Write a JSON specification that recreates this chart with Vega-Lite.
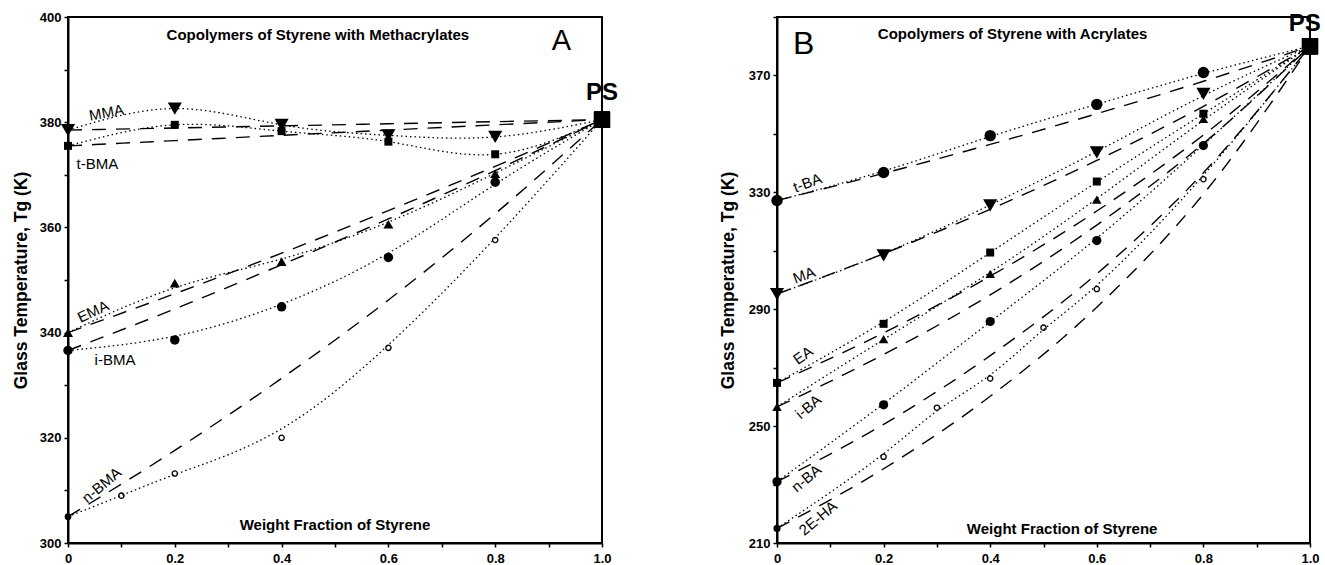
{
  "$schema": "https://vega.github.io/schema/vega-lite/v6.json",
  "padding": {"left": 11, "top": 10, "right": 0, "bottom": 0},
  "bounds": "flush",
  "spacing": 175,
  "config": {
    "font": "Liberation Sans",
    "view": {"stroke": "black", "strokeWidth": 2},
    "text": {"color": "black", "font": "Liberation Sans"},
    "axis": {
      "domainColor": "black", "domainWidth": 2, "tickColor": "black", "tickWidth": 1.5, "tickSize": 4,
      "labelFont": "Liberation Sans", "labelFontWeight": "bold", "labelFontSize": 13, "labelColor": "black",
      "labelPadding": 3, "labelOverlap": false, "labelFlush": false,
      "titleFont": "Liberation Sans", "titleFontWeight": "bold", "titleFontSize": 17.5, "titleColor": "black",
      "grid": false
    }
  },
  "datasets": {
    "A_pts": [
      {"s": "MMA", "x": 0, "y": 378.5}, {"s": "MMA", "x": 0.2, "y": 382.6}, {"s": "MMA", "x": 0.4, "y": 379.5}, {"s": "MMA", "x": 0.6, "y": 377.5}, {"s": "MMA", "x": 0.8, "y": 377.2}, {"s": "MMA", "x": 1, "y": 380.5},
      {"s": "t-BMA", "x": 0, "y": 375.5}, {"s": "t-BMA", "x": 0.2, "y": 379.5}, {"s": "t-BMA", "x": 0.4, "y": 378.3}, {"s": "t-BMA", "x": 0.6, "y": 376.3}, {"s": "t-BMA", "x": 0.8, "y": 373.9}, {"s": "t-BMA", "x": 1, "y": 380.5},
      {"s": "EMA", "x": 0, "y": 340}, {"s": "EMA", "x": 0.2, "y": 349.4}, {"s": "EMA", "x": 0.4, "y": 353.5}, {"s": "EMA", "x": 0.6, "y": 360.6}, {"s": "EMA", "x": 0.8, "y": 370.2}, {"s": "EMA", "x": 1, "y": 380.5},
      {"s": "i-BMA", "x": 0, "y": 336.6}, {"s": "i-BMA", "x": 0.2, "y": 338.6}, {"s": "i-BMA", "x": 0.4, "y": 344.9}, {"s": "i-BMA", "x": 0.6, "y": 354.3}, {"s": "i-BMA", "x": 0.8, "y": 368.6}, {"s": "i-BMA", "x": 1, "y": 380.5},
      {"s": "n-BMA", "x": 0, "y": 305}, {"s": "n-BMA", "x": 0.1, "y": 309}, {"s": "n-BMA", "x": 0.2, "y": 313.2}, {"s": "n-BMA", "x": 0.4, "y": 320}, {"s": "n-BMA", "x": 0.6, "y": 337.1}, {"s": "n-BMA", "x": 0.8, "y": 357.6}, {"s": "n-BMA", "x": 1, "y": 380.5}
    ],
    "A_fox": [
      {"s": "MMA", "x": 0, "y": 378.5}, {"s": "MMA", "x": 0.2, "y": 378.9}, {"s": "MMA", "x": 0.4, "y": 379.3}, {"s": "MMA", "x": 0.6, "y": 379.7}, {"s": "MMA", "x": 0.8, "y": 380.1}, {"s": "MMA", "x": 1, "y": 380.5},
      {"s": "t-BMA", "x": 0, "y": 375.5}, {"s": "t-BMA", "x": 0.2, "y": 376.5}, {"s": "t-BMA", "x": 0.4, "y": 377.5}, {"s": "t-BMA", "x": 0.6, "y": 378.5}, {"s": "t-BMA", "x": 0.8, "y": 379.5}, {"s": "t-BMA", "x": 1, "y": 380.5},
      {"s": "EMA", "x": 0, "y": 340}, {"s": "EMA", "x": 0.2, "y": 347.4}, {"s": "EMA", "x": 0.4, "y": 355.1}, {"s": "EMA", "x": 0.6, "y": 363.2}, {"s": "EMA", "x": 0.8, "y": 371.6}, {"s": "EMA", "x": 1, "y": 380.5},
      {"s": "i-BMA", "x": 0, "y": 336.6}, {"s": "i-BMA", "x": 0.2, "y": 344.5}, {"s": "i-BMA", "x": 0.4, "y": 352.9}, {"s": "i-BMA", "x": 0.6, "y": 361.6}, {"s": "i-BMA", "x": 0.8, "y": 370.8}, {"s": "i-BMA", "x": 1, "y": 380.5},
      {"s": "n-BMA", "x": 0, "y": 305}, {"s": "n-BMA", "x": 0.2, "y": 317.6}, {"s": "n-BMA", "x": 0.4, "y": 331.3}, {"s": "n-BMA", "x": 0.6, "y": 346.2}, {"s": "n-BMA", "x": 0.8, "y": 362.6}, {"s": "n-BMA", "x": 1, "y": 380.5}
    ],
    "A_lab": [
      {"label": "Copolymers of Styrene with Methacrylates", "x": 0.468, "y": 396.6},
      {"label": "Weight Fraction of Styrene", "x": 0.5, "y": 303.4},
      {"label": "A", "x": 0.924, "y": 395.5},
      {"label": "PS", "x": 1.0, "y": 385.5},
      {"label": "MMA", "x": 0.072, "y": 381.8},
      {"label": "t-BMA", "x": 0.055, "y": 372.0},
      {"label": "EMA", "x": 0.047, "y": 344.0},
      {"label": "i-BMA", "x": 0.088, "y": 334.8},
      {"label": "n-BMA", "x": 0.063, "y": 311.0}
    ],
    "B_pts": [
      {"s": "t-BA", "x": 0, "y": 327.2}, {"s": "t-BA", "x": 0.2, "y": 336.8}, {"s": "t-BA", "x": 0.4, "y": 349.4}, {"s": "t-BA", "x": 0.6, "y": 360.1}, {"s": "t-BA", "x": 0.8, "y": 371}, {"s": "t-BA", "x": 1, "y": 380},
      {"s": "MA", "x": 0, "y": 295.2}, {"s": "MA", "x": 0.2, "y": 308.4}, {"s": "MA", "x": 0.4, "y": 325.5}, {"s": "MA", "x": 0.6, "y": 343.7}, {"s": "MA", "x": 0.8, "y": 363.7}, {"s": "MA", "x": 1, "y": 380},
      {"s": "EA", "x": 0, "y": 264.8}, {"s": "EA", "x": 0.2, "y": 285}, {"s": "EA", "x": 0.4, "y": 309.4}, {"s": "EA", "x": 0.6, "y": 333.7}, {"s": "EA", "x": 0.8, "y": 356.9}, {"s": "EA", "x": 1, "y": 380},
      {"s": "i-BA", "x": 0, "y": 256.6}, {"s": "i-BA", "x": 0.2, "y": 279.8}, {"s": "i-BA", "x": 0.4, "y": 302.1}, {"s": "i-BA", "x": 0.6, "y": 327.5}, {"s": "i-BA", "x": 0.8, "y": 355.1}, {"s": "i-BA", "x": 1, "y": 380},
      {"s": "n-BA", "x": 0, "y": 231}, {"s": "n-BA", "x": 0.2, "y": 257.3}, {"s": "n-BA", "x": 0.4, "y": 285.8}, {"s": "n-BA", "x": 0.6, "y": 313.5}, {"s": "n-BA", "x": 0.8, "y": 346}, {"s": "n-BA", "x": 1, "y": 380},
      {"s": "2E-HA", "x": 0, "y": 215}, {"s": "2E-HA", "x": 0.2, "y": 239.5}, {"s": "2E-HA", "x": 0.3, "y": 256.3}, {"s": "2E-HA", "x": 0.4, "y": 266.3}, {"s": "2E-HA", "x": 0.5, "y": 283.7}, {"s": "2E-HA", "x": 0.6, "y": 296.9}, {"s": "2E-HA", "x": 0.8, "y": 334.5}, {"s": "2E-HA", "x": 1, "y": 380}
    ],
    "B_fox": [
      {"s": "t-BA", "x": 0, "y": 327.2}, {"s": "t-BA", "x": 0.2, "y": 336.5}, {"s": "t-BA", "x": 0.4, "y": 346.4}, {"s": "t-BA", "x": 0.6, "y": 356.9}, {"s": "t-BA", "x": 0.8, "y": 368}, {"s": "t-BA", "x": 1, "y": 380},
      {"s": "MA", "x": 0, "y": 295.2}, {"s": "MA", "x": 0.2, "y": 309}, {"s": "MA", "x": 0.4, "y": 324.2}, {"s": "MA", "x": 0.6, "y": 340.9}, {"s": "MA", "x": 0.8, "y": 359.4}, {"s": "MA", "x": 1, "y": 380},
      {"s": "EA", "x": 0, "y": 264.8}, {"s": "EA", "x": 0.2, "y": 281.9}, {"s": "EA", "x": 0.4, "y": 301.3}, {"s": "EA", "x": 0.6, "y": 323.6}, {"s": "EA", "x": 0.8, "y": 349.6}, {"s": "EA", "x": 1, "y": 380},
      {"s": "i-BA", "x": 0, "y": 256.6}, {"s": "i-BA", "x": 0.2, "y": 274.5}, {"s": "i-BA", "x": 0.4, "y": 294.9}, {"s": "i-BA", "x": 0.6, "y": 318.8}, {"s": "i-BA", "x": 0.8, "y": 346.7}, {"s": "i-BA", "x": 1, "y": 380},
      {"s": "n-BA", "x": 0, "y": 231}, {"s": "n-BA", "x": 0.2, "y": 250.6}, {"s": "n-BA", "x": 0.4, "y": 274.1}, {"s": "n-BA", "x": 0.6, "y": 302.1}, {"s": "n-BA", "x": 0.8, "y": 336.7}, {"s": "n-BA", "x": 1, "y": 380},
      {"s": "2E-HA", "x": 0, "y": 215}, {"s": "2E-HA", "x": 0.2, "y": 235.4}, {"s": "2E-HA", "x": 0.4, "y": 260.2}, {"s": "2E-HA", "x": 0.6, "y": 290.7}, {"s": "2E-HA", "x": 0.8, "y": 329.4}, {"s": "2E-HA", "x": 1, "y": 380}
    ],
    "B_lab": [
      {"label": "Copolymers of Styrene with Acrylates", "x": 0.442, "y": 384.3},
      {"label": "Weight Fraction of Styrene", "x": 0.535, "y": 214.8},
      {"label": "B", "x": 0.05, "y": 380.9},
      {"label": "PS", "x": 0.99, "y": 387.7},
      {"label": "t-BA", "x": 0.057, "y": 333.2},
      {"label": "MA", "x": 0.051, "y": 301.6},
      {"label": "EA", "x": 0.049, "y": 274.2},
      {"label": "i-BA", "x": 0.059, "y": 256.6},
      {"label": "n-BA", "x": 0.055, "y": 232.1},
      {"label": "2E-HA", "x": 0.077, "y": 218.5}
    ]
  },
  "hconcat": [
    {
      "width": 534,
      "height": 526,
      "encoding": {
        "x": {"field": "x", "type": "quantitative", "scale": {"domain": [0, 1], "nice": false, "zero": false},
          "axis": {"title": null, "values": [0, 0.1, 0.2, 0.3, 0.4, 0.5, 0.6, 0.7, 0.8, 0.9, 1],
            "labelExpr": "round(datum.value*10) % 2 == 0 ? (datum.value == 0 ? '0' : format(datum.value, '.1f')) : ''", "labelPadding": 5}},
        "y": {"field": "y", "type": "quantitative", "scale": {"domain": [300, 400], "nice": false, "zero": false},
          "axis": {"title": "Glass Temperature, Tg  (K)", "values": [300, 310, 320, 330, 340, 350, 360, 370, 380, 390, 400],
            "labelExpr": "datum.value % 20 == 0 ? datum.label : ''", "titlePadding": 9}}
      },
      "layer": [
        {"data": {"name": "A_fox"}, "mark": {"type": "line", "color": "black", "strokeWidth": 1.4, "strokeDash": [14, 10], "interpolate": "monotone"},
          "encoding": {"detail": {"field": "s"}}},
        {"data": {"name": "A_pts"}, "transform": [{"filter": "datum.s == 'MMA' || datum.s == 't-BMA'"}],
          "mark": {"type": "line", "color": "black", "strokeWidth": 1.3, "strokeDash": [1.5, 3], "interpolate": "natural"},
          "encoding": {"detail": {"field": "s"}}},
        {"data": {"name": "A_pts"}, "transform": [{"filter": "datum.s != 'MMA' && datum.s != 't-BMA'"}],
          "mark": {"type": "line", "color": "black", "strokeWidth": 1.3, "strokeDash": [1.5, 3], "interpolate": "basis"},
          "encoding": {"detail": {"field": "s"}}},
        {"data": {"name": "A_pts"}, "transform": [{"filter": "datum.s == 'MMA' && datum.x < 1"}],
          "mark": {"type": "point", "shape": "triangle-down", "size": 200, "filled": true, "color": "black", "opacity": 1}},
        {"data": {"name": "A_pts"}, "transform": [{"filter": "datum.s == 't-BMA' && datum.x < 1"}],
          "mark": {"type": "point", "shape": "square", "size": 64, "filled": true, "color": "black", "opacity": 1}},
        {"data": {"name": "A_pts"}, "transform": [{"filter": "datum.s == 'EMA' && datum.x < 1"}],
          "mark": {"type": "point", "shape": "triangle-up", "size": 100, "filled": true, "color": "black", "opacity": 1}},
        {"data": {"name": "A_pts"}, "transform": [{"filter": "datum.s == 'i-BMA' && datum.x < 1"}],
          "mark": {"type": "point", "shape": "circle", "size": 90, "filled": true, "color": "black", "opacity": 1}},
        {"data": {"name": "A_pts"}, "transform": [{"filter": "datum.s == 'n-BMA' && datum.x < 1 && datum.x > 0"}],
          "mark": {"type": "point", "shape": "circle", "size": 28, "filled": false, "color": "black", "strokeWidth": 1.3, "opacity": 1}},
        {"data": {"name": "A_pts"}, "transform": [{"filter": "datum.s == 'n-BMA' && datum.x == 0"}],
          "mark": {"type": "point", "shape": "circle", "size": 45, "filled": true, "color": "black", "opacity": 1}},
        {"data": {"name": "A_pts"}, "transform": [{"filter": "datum.x == 1"}],
          "mark": {"type": "point", "shape": "square", "size": 260, "filled": true, "color": "black", "opacity": 1}},
        {"data": {"name": "A_lab"}, "transform": [{"filter": "indexof(['Copolymers of Styrene with Methacrylates','Weight Fraction of Styrene'], datum.label) >= 0"}],
          "mark": {"type": "text", "fontWeight": "bold", "fontSize": 15},
          "encoding": {"text": {"field": "label"}}},
        {"data": {"name": "A_lab"}, "transform": [{"filter": "datum.label == 'A'"}],
          "mark": {"type": "text", "fontSize": 29},
          "encoding": {"text": {"field": "label"}}},
        {"data": {"name": "A_lab"}, "transform": [{"filter": "datum.label == 'PS'"}],
          "mark": {"type": "text", "fontWeight": "bold", "fontSize": 24},
          "encoding": {"text": {"field": "label"}}},
        {"data": {"name": "A_lab"}, "transform": [{"filter": "datum.label == 'MMA'"}],
          "mark": {"type": "text", "fontSize": 15, "angle": 350},
          "encoding": {"text": {"field": "label"}}},
        {"data": {"name": "A_lab"}, "transform": [{"filter": "datum.label == 't-BMA' || datum.label == 'i-BMA'"}],
          "mark": {"type": "text", "fontSize": 15},
          "encoding": {"text": {"field": "label"}}},
        {"data": {"name": "A_lab"}, "transform": [{"filter": "datum.label == 'EMA'"}],
          "mark": {"type": "text", "fontSize": 15, "angle": 335},
          "encoding": {"text": {"field": "label"}}},
        {"data": {"name": "A_lab"}, "transform": [{"filter": "datum.label == 'n-BMA'"}],
          "mark": {"type": "text", "fontSize": 15, "angle": 320},
          "encoding": {"text": {"field": "label"}}}
      ]
    },
    {
      "width": 533,
      "height": 526,
      "encoding": {
        "x": {"field": "x", "type": "quantitative", "scale": {"domain": [0, 1], "nice": false, "zero": false},
          "axis": {"title": null, "values": [0, 0.1, 0.2, 0.3, 0.4, 0.5, 0.6, 0.7, 0.8, 0.9, 1],
            "labelExpr": "round(datum.value*10) % 2 == 0 ? (datum.value == 0 ? '0' : format(datum.value, '.1f')) : ''", "labelPadding": 5}},
        "y": {"field": "y", "type": "quantitative", "scale": {"domain": [210, 390], "nice": false, "zero": false},
          "axis": {"title": "Glass Temperature, Tg  (K)", "values": [210, 230, 250, 270, 290, 310, 330, 350, 370, 390],
            "labelExpr": "(datum.value - 210) % 40 == 0 ? datum.label : ''", "titlePadding": 11}}
      },
      "layer": [
        {"data": {"name": "B_fox"}, "mark": {"type": "line", "color": "black", "strokeWidth": 1.4, "strokeDash": [14, 10], "interpolate": "monotone"},
          "encoding": {"detail": {"field": "s"}}},
        {"data": {"name": "B_pts"}, "mark": {"type": "line", "color": "black", "strokeWidth": 1.3, "strokeDash": [1.5, 3], "interpolate": "basis"},
          "encoding": {"detail": {"field": "s"}}},
        {"data": {"name": "B_pts"}, "transform": [{"filter": "datum.s == 't-BA' && datum.x < 1"}],
          "mark": {"type": "point", "shape": "circle", "size": 130, "filled": true, "color": "black", "opacity": 1}},
        {"data": {"name": "B_pts"}, "transform": [{"filter": "datum.s == 'MA' && datum.x < 1"}],
          "mark": {"type": "point", "shape": "triangle-down", "size": 200, "filled": true, "color": "black", "opacity": 1}},
        {"data": {"name": "B_pts"}, "transform": [{"filter": "datum.s == 'EA' && datum.x < 1"}],
          "mark": {"type": "point", "shape": "square", "size": 64, "filled": true, "color": "black", "opacity": 1}},
        {"data": {"name": "B_pts"}, "transform": [{"filter": "datum.s == 'i-BA' && datum.x < 1"}],
          "mark": {"type": "point", "shape": "triangle-up", "size": 90, "filled": true, "color": "black", "opacity": 1}},
        {"data": {"name": "B_pts"}, "transform": [{"filter": "datum.s == 'n-BA' && datum.x < 1"}],
          "mark": {"type": "point", "shape": "circle", "size": 85, "filled": true, "color": "black", "opacity": 1}},
        {"data": {"name": "B_pts"}, "transform": [{"filter": "datum.s == '2E-HA' && datum.x < 1 && datum.x > 0"}],
          "mark": {"type": "point", "shape": "circle", "size": 28, "filled": false, "color": "black", "strokeWidth": 1.3, "opacity": 1}},
        {"data": {"name": "B_pts"}, "transform": [{"filter": "datum.s == '2E-HA' && datum.x == 0"}],
          "mark": {"type": "point", "shape": "circle", "size": 50, "filled": true, "color": "black", "opacity": 1}},
        {"data": {"name": "B_pts"}, "transform": [{"filter": "datum.x == 1"}],
          "mark": {"type": "point", "shape": "square", "size": 260, "filled": true, "color": "black", "opacity": 1}},
        {"data": {"name": "B_lab"}, "transform": [{"filter": "indexof(['Copolymers of Styrene with Acrylates','Weight Fraction of Styrene'], datum.label) >= 0"}],
          "mark": {"type": "text", "fontWeight": "bold", "fontSize": 15},
          "encoding": {"text": {"field": "label"}}},
        {"data": {"name": "B_lab"}, "transform": [{"filter": "datum.label == 'B'"}],
          "mark": {"type": "text", "fontSize": 32},
          "encoding": {"text": {"field": "label"}}},
        {"data": {"name": "B_lab"}, "transform": [{"filter": "datum.label == 'PS'"}],
          "mark": {"type": "text", "fontWeight": "bold", "fontSize": 24},
          "encoding": {"text": {"field": "label"}}},
        {"data": {"name": "B_lab"}, "transform": [{"filter": "datum.label == 't-BA' || datum.label == 'MA'"}],
          "mark": {"type": "text", "fontSize": 15, "angle": 340},
          "encoding": {"text": {"field": "label"}}},
        {"data": {"name": "B_lab"}, "transform": [{"filter": "datum.label == 'EA'"}],
          "mark": {"type": "text", "fontSize": 15, "angle": 325},
          "encoding": {"text": {"field": "label"}}},
        {"data": {"name": "B_lab"}, "transform": [{"filter": "datum.label == 'i-BA' || datum.label == 'n-BA' || datum.label == '2E-HA'"}],
          "mark": {"type": "text", "fontSize": 15, "angle": 320},
          "encoding": {"text": {"field": "label"}}}
      ]
    }
  ]
}
